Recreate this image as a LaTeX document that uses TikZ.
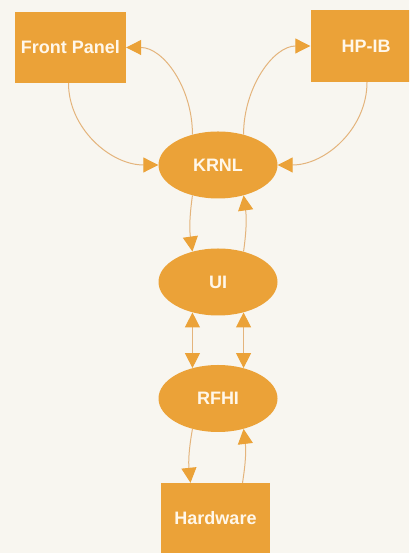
\documentclass[tikz,border=0pt]{standalone}
\usepackage{fontspec}
\setmainfont{Liberation Sans}
\usetikzlibrary{arrows.meta,shapes.geometric}
\definecolor{paper}{HTML}{F8F6F0}
\definecolor{blockfill}{HTML}{EBA238}
\definecolor{linkline}{HTML}{E4B47C}
\definecolor{labeltext}{HTML}{FFF7EA}
\begin{document}
\begin{tikzpicture}[x=1pt,y=1pt,
  label font/.style={font=\bfseries\fontsize{18}{20}\selectfont, text=labeltext},
  unitbox/.style={rectangle, fill=blockfill, inner sep=0pt, label font},
  module/.style={ellipse, fill=blockfill, inner sep=0pt,
                 minimum width=119pt, minimum height=67pt, label font},
  link/.style={draw=linkline, line width=1pt,
               -{Triangle[length=15pt,width=15pt,color=blockfill,fill=blockfill]}},
  duplex/.style={draw=linkline, line width=1pt,
               {Triangle[length=15pt,width=15pt,color=blockfill,fill=blockfill]}-{Triangle[length=15pt,width=15pt,color=blockfill,fill=blockfill]}}
]
% page
\fill[paper] (0,0) rectangle (409,553);
\useasboundingbox (0,0) rectangle (409,553);
\clip (0,0) rectangle (409,553);

% blocks
\node[unitbox, minimum width=111pt, minimum height=71pt] (fp) at (70.5,505.5) {Front Panel};
\node[unitbox, minimum width=111pt, minimum height=72pt] (hp) at (366,507) {HP-IB};
\node[module] (krnl) at (218,388) {KRNL};
\node[module] (ui)   at (218,271) {UI};
\node[module] (rfhi) at (218,154.5) {RFHI};
\node[unitbox, minimum width=109pt, minimum height=71pt] (hw) at (215.5,34.5) {Hardware};

% kernel <-> front panel / HP-IB
\draw[link] ([xshift=-2pt]fp.south) .. controls +(0,-45) and +(-48,0) .. (krnl.west);
\draw[link] (krnl.130) .. controls +(0,47) and +(37,0) .. (fp.east);
\draw[link] (krnl.50) .. controls +(0,47) and +(-37,0) .. (hp.west);
\draw[link] ([xshift=1pt]hp.south) .. controls +(0,-46) and +(48,0) .. (krnl.east);

% kernel <-> UI
\draw[link] (krnl.230) to[bend right=8] (ui.130);
\draw[link] (ui.50) to[bend right=8] (krnl.310);

% UI <-> RFHI
\draw[duplex] (ui.230) -- (rfhi.130);
\draw[duplex] (ui.310) -- (rfhi.50);

% RFHI <-> hardware
\draw[link] (rfhi.230) to[bend right=8] ([xshift=-25pt]hw.north);
\draw[link] ([xshift=27pt]hw.north) to[bend right=8] (rfhi.310);
\end{tikzpicture}
\end{document}
